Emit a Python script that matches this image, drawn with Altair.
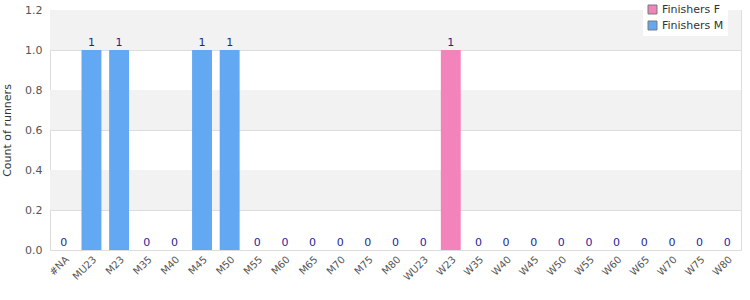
import altair as alt
import pandas as pd

categories = ["#NA", "MU23", "M23", "M35", "M40", "M45", "M50", "M55", "M60", "M65",
              "M70", "M75", "M80", "WU23", "W23", "W35", "W40", "W45", "W50", "W55",
              "W60", "W65", "W70", "W75", "W80"]
finishers_f = [0, 0, 0, 0, 0, 0, 0, 0, 0, 0, 0, 0, 0, 0, 1, 0, 0, 0, 0, 0, 0, 0, 0, 0, 0]
finishers_m = [0, 1, 1, 0, 0, 1, 1, 0, 0, 0, 0, 0, 0, 0, 0, 0, 0, 0, 0, 0, 0, 0, 0, 0, 0]
series_names = ["Finishers F", "Finishers M"]
series_colors = ["#f283bb", "#62a8f3"]
band_lo = [0.2, 0.6, 1.0]
band_hi = [0.4, 0.8, 1.2]
y_ticks = [0, 0.2, 0.4, 0.6, 0.8, 1.0, 1.2]

rows = []
for c, f, m in zip(categories, finishers_f, finishers_m):
    rows.append({"cat": c, "series": series_names[0], "value": f})
    rows.append({"cat": c, "series": series_names[1], "value": m})
df = pd.DataFrame(rows)
totals = pd.DataFrame({"cat": categories,
                       "total": [f + m for f, m in zip(finishers_f, finishers_m)]})
bands = pd.DataFrame({"lo": band_lo, "hi": band_hi})

yscale = alt.Scale(domain=[0, 1.2], nice=False)
xscale = alt.Scale(paddingInner=0.28, paddingOuter=0.14)

yaxis = alt.Axis(
    title="Count of runners", values=y_ticks, format=".1f", labelOverlap=False,
    labelColor="#555", labelFontSize=11, labelFont="DejaVu Sans", ticks=False,
    domain=False, grid=True, gridColor="#dddddd", titleColor="#333", titleFontSize=11,
    titleFont="DejaVu Sans", titleFontWeight="normal", labelPadding=8, titlePadding=12)
xaxis = alt.Axis(title=None, labelAngle=315, labelAlign="right", labelBaseline="top",
                 labelColor="#555", labelFontSize=10, ticks=False, domain=True,
                 grid=False, domainColor="#ddd", labelPadding=4,
                 labelFont="DejaVu Sans")

bg = alt.Chart(bands).mark_rect(color="#f2f2f2").encode(
    y=alt.Y("lo:Q", scale=yscale, axis=yaxis),
    y2="hi:Q",
    x=alt.value(0), x2=alt.value(691),
)

bars = alt.Chart(df).mark_bar().encode(
    x=alt.X("cat:N", sort=categories, scale=xscale, axis=xaxis),
    y=alt.Y("value:Q", stack="zero", scale=yscale, axis=yaxis),
    color=alt.Color("series:N", scale=alt.Scale(domain=series_names, range=series_colors),
                    legend=alt.Legend(title=None, orient="none", legendX=593, legendY=-10,
                                      symbolType="square", symbolStrokeColor="#777",
                                      symbolStrokeWidth=1, symbolSize=80, labelFontSize=11,
                                      labelColor="#333", labelFont="DejaVu Sans",
                                      fillColor="white", padding=4, rowPadding=3)),
)

labels = alt.Chart(totals).mark_text(dy=-7, color="#1f1f99", fontSize=11,
                                     font="DejaVu Sans").encode(
    x=alt.X("cat:N", sort=categories, scale=xscale, axis=xaxis),
    y=alt.Y("total:Q", scale=yscale, axis=yaxis),
    text="total:Q",
)

chart = alt.layer(bg, bars, labels).properties(
    width=691, height=240,
    autosize=alt.AutoSizeParams(type="none"),
    padding={"left": 50, "top": 10, "right": 9, "bottom": 50},
).configure_view(stroke="#dddddd", strokeWidth=1).configure_axisX(labelAngle=315)

chart.save("out.html", embed_options={"renderer": "svg", "actions": False})
